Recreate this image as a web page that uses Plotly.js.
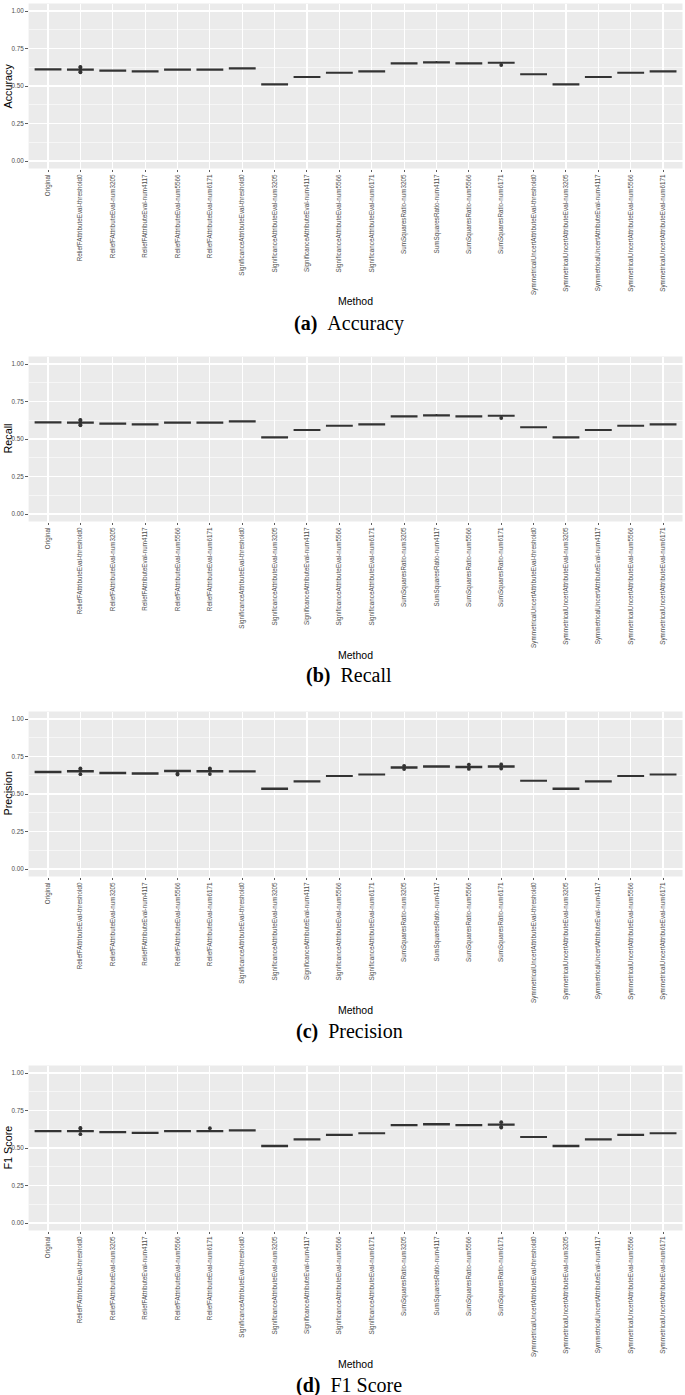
<!DOCTYPE html>
<html>
<head>
<meta charset="utf-8">
<script src="https://cdn.plot.ly/plotly-3.0.1.min.js"></script>
<style>html,body{margin:0;padding:0;background:#fff;}#chart{width:685px;height:1395px;}</style>
</head>
<body>
<div id="chart"></div>
<script>
// ---------------- DATA ----------------
const methods = [
  "Original",
  "ReliefFAttributeEval-threshold0",
  "ReliefFAttributeEval-num3205",
  "ReliefFAttributeEval-num4117",
  "ReliefFAttributeEval-num5566",
  "ReliefFAttributeEval-num6171",
  "SignificanceAttributeEval-threshold0",
  "SignificanceAttributeEval-num3205",
  "SignificanceAttributeEval-num4117",
  "SignificanceAttributeEval-num5566",
  "SignificanceAttributeEval-num6171",
  "SumSquaresRatio-num3205",
  "SumSquaresRatio-num4117",
  "SumSquaresRatio-num5566",
  "SumSquaresRatio-num6171",
  "SymmetricalUncertAttributeEval-threshold0",
  "SymmetricalUncertAttributeEval-num3205",
  "SymmetricalUncertAttributeEval-num4117",
  "SymmetricalUncertAttributeEval-num5566",
  "SymmetricalUncertAttributeEval-num6171"
];

// Accuracy
const accMedian = [0.611,0.609,0.602,0.598,0.609,0.609,0.617,0.511,0.560,0.588,0.597,0.651,0.658,0.651,0.655,0.578,0.511,0.560,0.588,0.597];
const accQ1     = [0.609,0.607,0.600,0.596,0.607,0.607,0.615,0.509,0.558,0.587,0.596,0.649,0.656,0.649,0.654,0.577,0.509,0.558,0.587,0.596];
const accQ3     = [0.613,0.611,0.604,0.600,0.611,0.611,0.619,0.513,0.562,0.590,0.599,0.653,0.660,0.653,0.657,0.580,0.513,0.562,0.590,0.599];
const accLow    = [0.606,0.603,0.598,0.594,0.605,0.605,0.613,0.507,0.556,0.586,0.594,0.647,0.651,0.647,0.651,0.575,0.507,0.556,0.586,0.594];
const accHigh   = [0.616,0.615,0.606,0.602,0.613,0.613,0.621,0.515,0.566,0.591,0.601,0.655,0.667,0.655,0.659,0.582,0.515,0.566,0.591,0.602];
const accOutX   = ["ReliefFAttributeEval-threshold0","ReliefFAttributeEval-threshold0","ReliefFAttributeEval-threshold0","ReliefFAttributeEval-threshold0","SumSquaresRatio-num6171"];
const accOutY   = [0.591,0.595,0.624,0.628,0.640];

// Recall
const recMedian = [0.611,0.609,0.602,0.598,0.609,0.609,0.617,0.511,0.560,0.588,0.597,0.651,0.658,0.651,0.655,0.578,0.511,0.560,0.588,0.597];
const recQ1     = [0.609,0.607,0.600,0.596,0.607,0.607,0.615,0.509,0.558,0.587,0.596,0.649,0.656,0.649,0.654,0.577,0.509,0.558,0.587,0.596];
const recQ3     = [0.613,0.611,0.604,0.600,0.611,0.611,0.619,0.513,0.562,0.590,0.599,0.653,0.660,0.653,0.657,0.580,0.513,0.562,0.590,0.599];
const recLow    = [0.606,0.603,0.598,0.594,0.605,0.605,0.613,0.507,0.556,0.586,0.594,0.647,0.651,0.647,0.651,0.575,0.507,0.556,0.586,0.594];
const recHigh   = [0.616,0.615,0.606,0.602,0.613,0.613,0.621,0.515,0.566,0.591,0.601,0.655,0.667,0.655,0.659,0.582,0.515,0.566,0.591,0.602];
const recOutX   = ["ReliefFAttributeEval-threshold0","ReliefFAttributeEval-threshold0","ReliefFAttributeEval-threshold0","ReliefFAttributeEval-threshold0","SumSquaresRatio-num6171"];
const recOutY   = [0.591,0.595,0.624,0.628,0.640];

// Precision
const preMedian = [0.647,0.651,0.640,0.636,0.653,0.651,0.650,0.535,0.584,0.619,0.630,0.676,0.684,0.680,0.684,0.588,0.535,0.584,0.619,0.630];
const preQ1     = [0.644,0.648,0.637,0.634,0.650,0.648,0.648,0.532,0.582,0.618,0.629,0.674,0.681,0.677,0.681,0.587,0.532,0.582,0.618,0.629];
const preQ3     = [0.650,0.654,0.643,0.639,0.656,0.654,0.653,0.538,0.586,0.621,0.632,0.679,0.687,0.683,0.687,0.590,0.538,0.586,0.621,0.632];
const preLow    = [0.640,0.642,0.634,0.632,0.646,0.642,0.645,0.529,0.580,0.616,0.627,0.671,0.678,0.673,0.676,0.585,0.529,0.580,0.616,0.627];
const preHigh   = [0.654,0.660,0.646,0.641,0.658,0.660,0.655,0.541,0.588,0.623,0.634,0.682,0.690,0.687,0.690,0.592,0.541,0.588,0.623,0.634];
const preOutX   = ["ReliefFAttributeEval-threshold0","ReliefFAttributeEval-threshold0","ReliefFAttributeEval-threshold0","ReliefFAttributeEval-num5566","ReliefFAttributeEval-num5566","ReliefFAttributeEval-num6171","ReliefFAttributeEval-num6171","ReliefFAttributeEval-num6171","SumSquaresRatio-num3205","SumSquaresRatio-num3205","SumSquaresRatio-num5566","SumSquaresRatio-num5566","SumSquaresRatio-num6171","SumSquaresRatio-num6171"];
const preOutY   = [0.632,0.666,0.670,0.630,0.635,0.633,0.666,0.670,0.666,0.688,0.667,0.696,0.670,0.697];

// F1 Score
const f1Median = [0.612,0.612,0.605,0.601,0.613,0.613,0.618,0.513,0.558,0.587,0.598,0.652,0.658,0.652,0.656,0.573,0.513,0.558,0.587,0.598];
const f1Q1     = [0.610,0.610,0.603,0.599,0.611,0.611,0.616,0.510,0.556,0.586,0.597,0.650,0.655,0.650,0.654,0.572,0.510,0.556,0.586,0.597];
const f1Q3     = [0.614,0.614,0.608,0.603,0.615,0.615,0.620,0.516,0.560,0.589,0.599,0.654,0.661,0.654,0.658,0.575,0.516,0.560,0.589,0.599];
const f1Low    = [0.607,0.604,0.600,0.597,0.609,0.607,0.614,0.507,0.554,0.585,0.596,0.648,0.652,0.648,0.650,0.570,0.507,0.554,0.585,0.596];
const f1High   = [0.617,0.620,0.610,0.605,0.617,0.619,0.622,0.518,0.563,0.590,0.600,0.656,0.664,0.656,0.662,0.577,0.518,0.563,0.590,0.600];
const f1OutX   = ["ReliefFAttributeEval-threshold0","ReliefFAttributeEval-threshold0","ReliefFAttributeEval-threshold0","ReliefFAttributeEval-num6171","SumSquaresRatio-num6171","SumSquaresRatio-num6171","SumSquaresRatio-num6171"];
const f1OutY   = [0.592,0.630,0.634,0.632,0.636,0.641,0.672];

const yTickVals = [0, 0.25, 0.5, 0.75, 1];
const yTickText = ["0.00", "0.25", "0.50", "0.75", "1.00"];

const panels = [
  {ylabel: "Accuracy",  tag: "(a)", caption: "Accuracy",  med: accMedian, q1: accQ1, q3: accQ3, lo: accLow, hi: accHigh, ox: accOutX, oy: accOutY},
  {ylabel: "Recall",    tag: "(b)", caption: "Recall",    med: recMedian, q1: recQ1, q3: recQ3, lo: recLow, hi: recHigh, ox: recOutX, oy: recOutY},
  {ylabel: "Precision", tag: "(c)", caption: "Precision", med: preMedian, q1: preQ1, q3: preQ3, lo: preLow, hi: preHigh, ox: preOutX, oy: preOutY},
  {ylabel: "F1 Score",  tag: "(d)", caption: "F1 Score",  med: f1Median,  q1: f1Q1,  q3: f1Q3,  lo: f1Low,  hi: f1High,  ox: f1OutX,  oy: f1OutY}
];

// ---------------- LAYOUT ----------------
const W = 685, H = 1395;
const panelTops = [3.5, 356.5, 711.5, 1065.5];
const panelH = 165;
const plotLeft = 28.6, plotRight = 682.5;
const py = p => 1 - p / H;
const px = p => p / W;

const sans = "Liberation Sans, Arial, Helvetica, sans-serif";
const serif = "Liberation Serif, Times New Roman, serif";

const traces = [];
const layout = {
  width: W, height: H,
  margin: {l: 0, r: 0, t: 0, b: 0},
  paper_bgcolor: "#FFFFFF",
  plot_bgcolor: "#EBEBEB",
  showlegend: false,
  annotations: []
};

panels.forEach((p, i) => {
  const n = i === 0 ? "" : String(i + 1);
  const xa = "x" + n, ya = "y" + n;
  traces.push({
    type: "box",
    x: methods,
    q1: p.q1, median: p.med, q3: p.q3,
    lowerfence: p.lo, upperfence: p.hi,
    xaxis: xa, yaxis: ya,
    width: 0.78,
    whiskerwidth: 0,
    fillcolor: "#FFFFFF",
    line: {color: "#333333", width: 1.6},
    boxpoints: false,
    hoverinfo: "skip"
  });
  traces.push({
    type: "scatter", mode: "markers",
    x: p.ox, y: p.oy,
    xaxis: xa, yaxis: ya,
    marker: {color: "#333333", size: 3.8},
    hoverinfo: "skip"
  });
  const top = panelTops[i], bot = top + panelH;
  layout["xaxis" + n] = {
    type: "category",
    categoryorder: "array", categoryarray: methods,
    domain: [px(plotLeft), px(plotRight)],
    anchor: ya,
    range: [-0.6, 19.6],
    tickmode: "linear", tick0: 0, dtick: 1,
    tickangle: -90,
    ticks: "outside", ticklen: 2.5, tickwidth: 0.8, tickcolor: "#333333",
    tickfont: {family: sans, size: 6.3, color: "#4D4D4D"},
    showgrid: true, gridcolor: "#FFFFFF", gridwidth: 1.2,
    zeroline: false, showline: false,
    automargin: false, fixedrange: true
  };
  layout["yaxis" + n] = {
    domain: [py(bot), py(top)],
    anchor: xa,
    range: [-0.05, 1.05],
    tickmode: "array", tickvals: yTickVals, ticktext: yTickText,
    ticks: "outside", ticklen: 2.5, tickwidth: 0.8, tickcolor: "#333333",
    tickfont: {family: sans, size: 6.3, color: "#4D4D4D"},
    showgrid: true, gridcolor: "#FFFFFF", gridwidth: 1.2,
    minor: {dtick: 0.125, tick0: 0, showgrid: true, gridcolor: "#FFFFFF", gridwidth: 0.55},
    zeroline: false, showline: false,
    automargin: false, fixedrange: true
  };
  // y-axis title
  layout.annotations.push({
    xref: "paper", yref: "paper",
    x: px(7.5), y: py(top + panelH / 2),
    xanchor: "center", yanchor: "middle",
    text: p.ylabel, textangle: -90, showarrow: false,
    font: {family: sans, size: 10.8, color: "#000000"}
  });
  // x-axis title
  layout.annotations.push({
    xref: "paper", yref: "paper",
    x: px((plotLeft + plotRight) / 2), y: py(top + 298),
    xanchor: "center", yanchor: "middle",
    text: "Method", showarrow: false,
    font: {family: sans, size: 10.5, color: "#000000"}
  });
  // caption
  layout.annotations.push({
    xref: "paper", yref: "paper",
    x: px(349), y: py(top + 319.5),
    xanchor: "center", yanchor: "middle",
    text: "<b>" + p.tag + "</b>\u00A0\u00A0" + p.caption, showarrow: false,
    font: {family: serif, size: 20, color: "#000000"}
  });
});

Plotly.newPlot("chart", traces, layout, {staticPlot: true, displayModeBar: false});
</script>
</body>
</html>
